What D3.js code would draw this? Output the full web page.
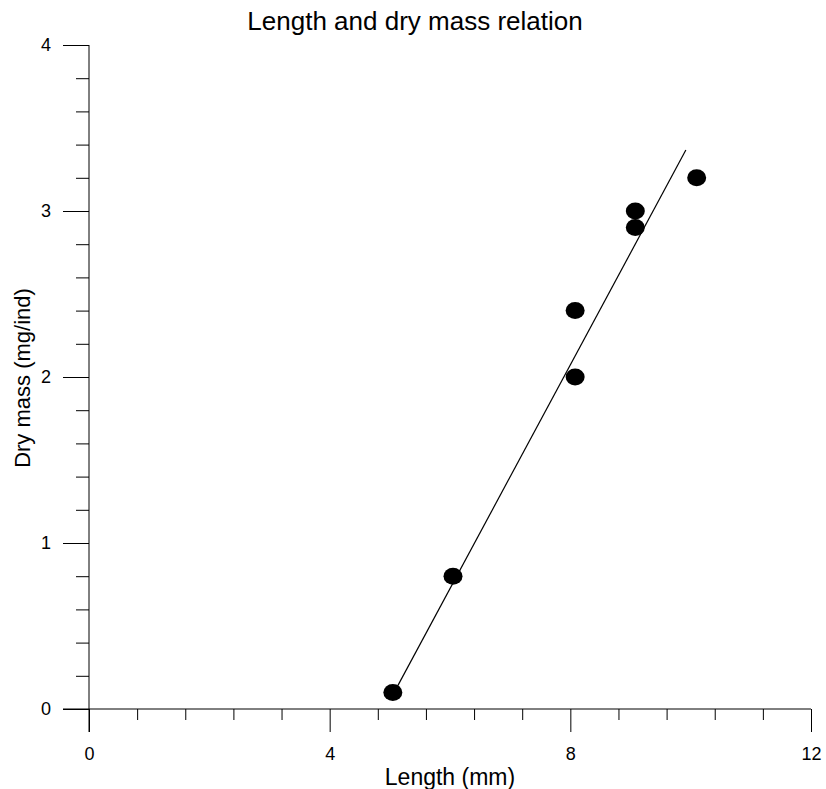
<!DOCTYPE html>
<html>
<head>
<meta charset="utf-8">
<script src="https://cdn.jsdelivr.net/npm/d3@7"></script>
<style>
  html, body { margin: 0; padding: 0; background: #fff; }
  svg { display: block; font-family: "Liberation Sans", Arial, sans-serif; }
</style>
</head>
<body>
<svg id="chart" width="826" height="789"></svg>
<script>
// Data
const lengthMm = [5.05, 6.05, 8.08, 8.08, 9.08, 9.08, 10.1];
const dryMass  = [0.1, 0.8, 2.0, 2.4, 2.9, 3.0, 3.2];
const fitX = [5.05, 9.92];
const fitY = [0.085, 3.367];
const xMajorTicks = [0, 4, 8, 12];
const yMajorTicks = [0, 1, 2, 3, 4];
const title = "Length and dry mass relation";
const xLabel = "Length (mm)";
const yLabel = "Dry mass (mg/ind)";

(function () {
const svg = d3.select("#chart");
const mL = 89, mR = 811, mT = 45, mB = 709;

const x = d3.scaleLinear().domain([0, 12]).range([mL, mR]);
const y = d3.scaleLinear().domain([0, 4]).range([mB, mT]);

const xMinor = d3.range(0, 12.0001, 0.8).filter(v => !xMajorTicks.some(m => Math.abs(m - v) < 1e-6));
const yMinor = d3.range(0, 4.0001, 0.2).filter(v => !yMajorTicks.some(m => Math.abs(m - v) < 1e-6));

// X axis
const gx = svg.append("g").attr("transform", `translate(0,${mB})`);
gx.call(d3.axisBottom(x).tickValues(xMinor).tickSize(11).tickFormat(""));
gx.call(g => g.select(".domain").remove());
const gx2 = svg.append("g").attr("transform", `translate(0,${mB})`);
gx2.call(d3.axisBottom(x).tickValues(xMajorTicks).tickSize(23).tickSizeOuter(0).tickPadding(15).tickFormat(d3.format("d")));
gx2.selectAll("text").attr("font-size", 18).attr("fill", "#000").attr("font-family", "Liberation Sans, Arial, sans-serif");
gx2.select(".domain").remove();
svg.append("line").attr("x1", mL - 26).attr("x2", mR).attr("y1", mB).attr("y2", mB)
  .attr("stroke", "#000").attr("stroke-width", 1);

// Y axis
const gy = svg.append("g").attr("transform", `translate(${mL},0)`);
gy.call(d3.axisLeft(y).tickValues(yMinor).tickSize(13).tickFormat(""));
gy.call(g => g.select(".domain").remove());
const gy2 = svg.append("g").attr("transform", `translate(${mL},0)`);
gy2.call(d3.axisLeft(y).tickValues(yMajorTicks).tickSize(26).tickPadding(12).tickFormat(d3.format("d")));
gy2.selectAll("text").attr("font-size", 18).attr("fill", "#000").attr("font-family", "Liberation Sans, Arial, sans-serif");
gy2.select(".domain").remove();
svg.append("line").attr("x1", mL).attr("x2", mL).attr("y1", mT).attr("y2", mB + 23)
  .attr("stroke", "#000").attr("stroke-width", 1);

svg.selectAll(".tick line").attr("stroke", "#000");

// Fit line
svg.append("line")
  .attr("x1", x(fitX[0])).attr("y1", y(fitY[0]))
  .attr("x2", x(fitX[1])).attr("y2", y(fitY[1]))
  .attr("stroke", "#000").attr("stroke-width", 1.2);

// Points
svg.append("g").selectAll("ellipse")
  .data(lengthMm.map((v, i) => ({x: v, y: dryMass[i]})))
  .join("ellipse")
  .attr("cx", d => x(d.x)).attr("cy", d => y(d.y))
  .attr("rx", 9.5).attr("ry", 8.5)
  .attr("fill", "#000");

// Title and labels
svg.append("text").attr("x", 415).attr("y", 30).attr("text-anchor", "middle")
  .attr("font-size", 26).text(title);
svg.append("text").attr("x", (mL + mR) / 2).attr("y", 785).attr("text-anchor", "middle")
  .attr("font-size", 23).text(xLabel);
svg.append("text").attr("transform", `translate(30,378) rotate(-90)`)
  .attr("text-anchor", "middle").attr("font-size", 22).text(yLabel);
})();
</script>
</body>
</html>
